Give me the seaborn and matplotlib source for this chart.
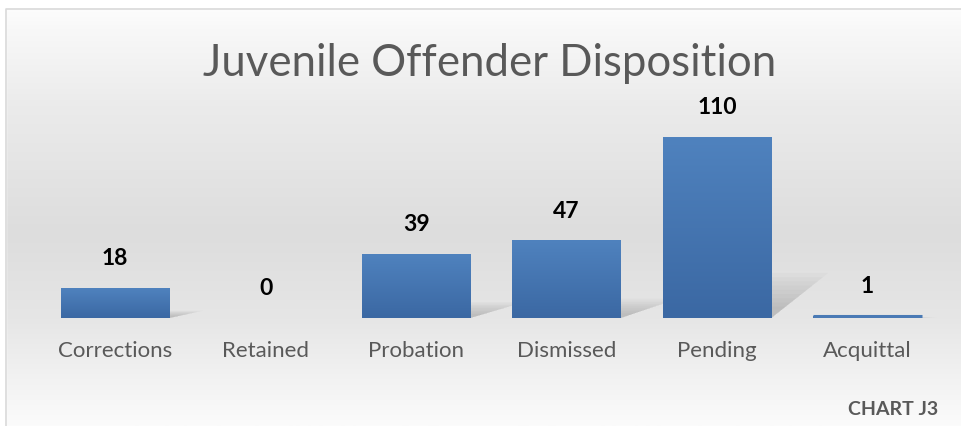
import numpy as np
import pandas as pd
import seaborn as sns
import matplotlib.pyplot as plt
from matplotlib.colors import LinearSegmentedColormap
from matplotlib.patches import Polygon

categories = ["Corrections", "Retained", "Probation", "Dismissed", "Pending", "Acquittal"]
counts = [18, 0, 39, 47, 110, 1]

df = pd.DataFrame({"disposition": categories, "count": counts})

sns.set_theme(style="white")
plt.rcParams['font.family'] = ['Lato', 'DejaVu Sans']

fig = plt.figure(figsize=(9.62, 4.27), dpi=100)

# background panel with soft vertical gradient
bg = fig.add_axes([0, 0, 1, 1], zorder=0)
bg_cmap = LinearSegmentedColormap.from_list(
    "bg", [(0.0, "#ffffff"), (0.07, "#f8f8f8"), (0.25, "#ebebeb"),
           (0.55, "#dddddd"), (0.75, "#e6e6e6"), (1.0, "#fbfbfb")])
grad = np.linspace(0, 1, 256).reshape(-1, 1)
bg.imshow(grad, aspect="auto", cmap=bg_cmap, extent=[0, 1, 0, 1], origin="upper")
bg.add_patch(plt.Rectangle((0, 0.976), 1, 0.024, color="white", zorder=3))
bg.add_patch(plt.Rectangle((0, 0), 0.006, 1, color="white", zorder=3))
bg.plot([0.006, 0.006, 1.0], [0.0, 0.976, 0.976], color="#d9d9d9", lw=1.2, zorder=4)
bg.set_xlim(0, 1)
bg.set_ylim(0, 1)
bg.axis("off")

ax = fig.add_axes([0.0416, 0.253, 0.9384, 0.465], zorder=1)
ax.patch.set_alpha(0)
sns.barplot(data=df, x="disposition", y="count", color="#4a7ab5", width=0.72,
            saturation=1, ax=ax)
ax.set_ylim(0, 121)
ax.set_xlim(-0.5, len(categories) - 0.5)

# gradient fill and soft shadow on each bar
bar_cmap = LinearSegmentedColormap.from_list("bar", ["#3b68a3", "#4f82be"])
for p in ax.patches:
    x0, y0 = p.get_x(), p.get_y()
    w, h = p.get_width(), p.get_height()
    p.set_alpha(0)
    if h <= 0:
        continue
    for s in np.linspace(1, 0.25, 9):
        d = 0.38 * s * min(1, h / 60 + 0.3)
        sh = 0.25 * h * s
        ax.add_patch(Polygon([(x0, 0), (x0 + w, 0), (x0 + w + d, sh), (x0 + d, sh)],
                             closed=True, color="#555555", alpha=0.03, lw=0, zorder=1.5))
    ax.imshow(np.linspace(0, 1, 100).reshape(-1, 1), cmap=bar_cmap, aspect="auto",
              extent=[x0, x0 + w, y0, y0 + h], origin="lower", zorder=2)
    if h < 2:
        ax.plot([x0, x0 + w], [y0 + h, y0 + h], color="#4a7ab5", lw=2.2, zorder=2,
                solid_capstyle="butt")

for i, v in enumerate(counts):
    ax.annotate(str(v), (i, v), xytext=(0, 22), textcoords="offset points",
                ha="center", va="center", fontsize=16.5, fontweight="bold", color="black")

ax.set_xlabel("")
ax.set_ylabel("")
ax.set_yticks([])
ax.tick_params(axis="x", length=0, pad=16, labelsize=16, labelcolor="#595959")
sns.despine(ax=ax, left=True, bottom=True)

fig.text(0.509, 0.852, "Juvenile Offender Disposition", ha="center", va="center",
         fontsize=31.5, color="#595959")
fig.text(0.975, 0.04, "CHART J3", ha="right", va="center", fontsize=14,
         fontweight="bold", color="#595959")

fig.savefig("out.png", dpi=100)
